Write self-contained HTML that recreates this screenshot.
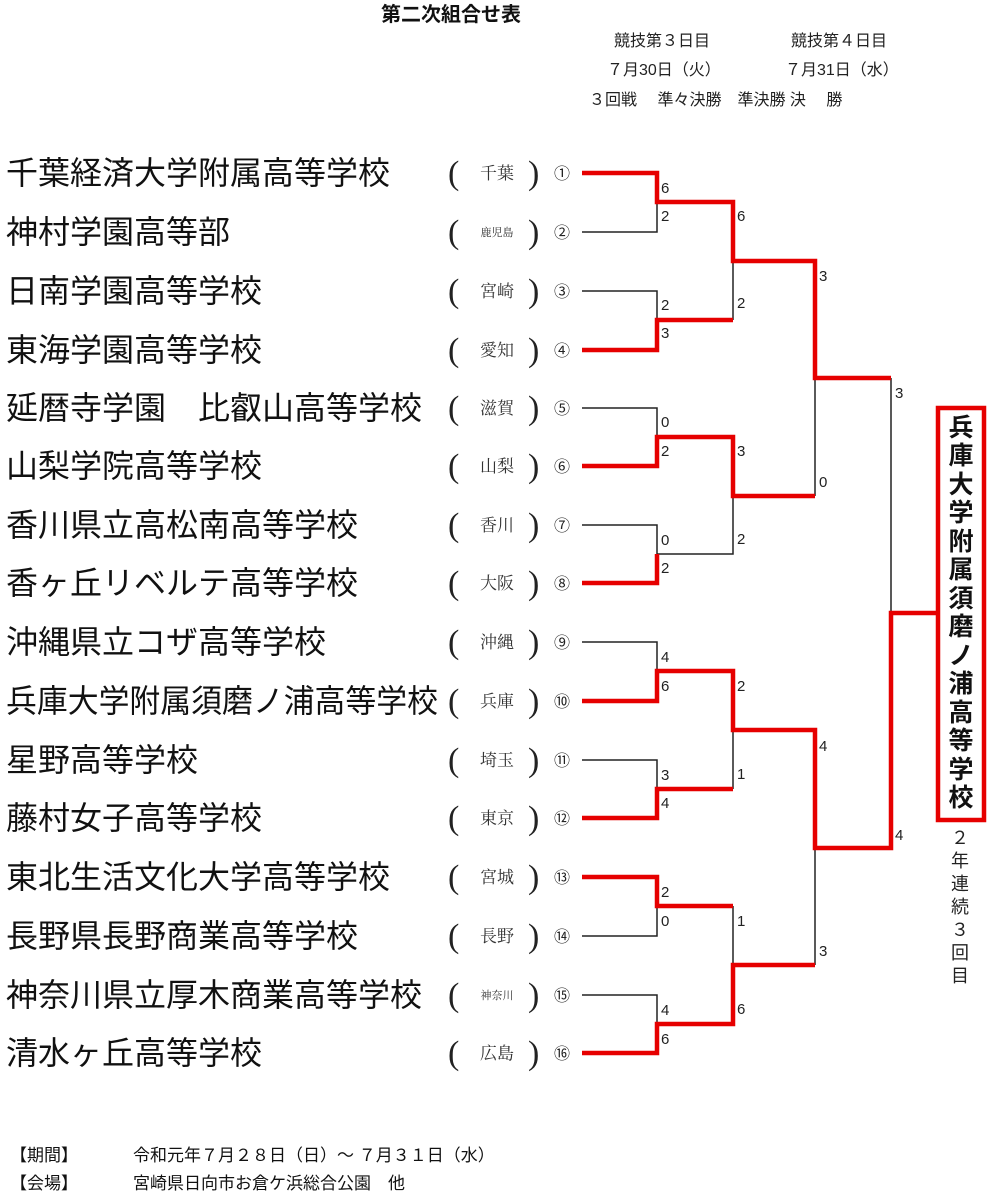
<!DOCTYPE html>
<html><head><meta charset="utf-8"><style>
html,body{margin:0;padding:0;background:#fff;}
svg{display:block;font-family:"Liberation Sans","Noto Sans CJK JP",sans-serif;}
.n{font-size:32px;fill:#111;}
.p{font-size:17px;fill:#333;font-family:"Liberation Serif","Noto Serif CJK SC",serif;}
.ps{font-size:11px;fill:#333;font-family:"Liberation Serif","Noto Serif CJK SC",serif;}
.par{font-size:34px;fill:#222;font-family:"Liberation Serif","Noto Serif CJK SC",serif;}
.c{font-size:16px;fill:#222;}
.s{font-size:15px;fill:#222;}
.h{font-size:16px;fill:#222;}
</style></head><body>
<svg width="1000" height="1200" viewBox="0 0 1000 1200">
<text x="381" y="21" font-size="20" font-weight="bold" fill="#111">第二次組合せ表</text>
<text x="614" y="46" class="h">競技第３日目</text>
<text x="791" y="46" class="h">競技第４日目</text>
<text x="607" y="75" class="h">７月30日（火）</text>
<text x="785" y="75" class="h">７月31日（水）</text>
<text x="589" y="105" class="h">３回戦　 準々決勝　準決勝  決　 勝</text>

<g id="names">
<text x="6" y="184" class="n">千葉経済大学附属高等学校</text>
<text x="6" y="243" class="n">神村学園高等部</text>
<text x="6" y="302" class="n">日南学園高等学校</text>
<text x="6" y="361" class="n">東海学園高等学校</text>
<text x="6" y="419" class="n">延暦寺学園　比叡山高等学校</text>
<text x="6" y="477" class="n">山梨学院高等学校</text>
<text x="6" y="536" class="n">香川県立高松南高等学校</text>
<text x="6" y="594" class="n">香ヶ丘リベルテ高等学校</text>
<text x="6" y="653" class="n">沖縄県立コザ高等学校</text>
<text x="6" y="712" class="n" textLength="432" lengthAdjust="spacingAndGlyphs">兵庫大学附属須磨ノ浦高等学校</text>
<text x="6" y="771" class="n">星野高等学校</text>
<text x="6" y="829" class="n">藤村女子高等学校</text>
<text x="6" y="888" class="n">東北生活文化大学高等学校</text>
<text x="6" y="947" class="n">長野県長野商業高等学校</text>
<text x="6" y="1006" class="n">神奈川県立厚木商業高等学校</text>
<text x="6" y="1064" class="n">清水ヶ丘高等学校</text>
</g>

<g>
<g class="par">
<text x="448" y="184">(</text><text x="528" y="184">)</text>
<text x="448" y="243">(</text><text x="528" y="243">)</text>
<text x="448" y="302">(</text><text x="528" y="302">)</text>
<text x="448" y="361">(</text><text x="528" y="361">)</text>
<text x="448" y="419">(</text><text x="528" y="419">)</text>
<text x="448" y="477">(</text><text x="528" y="477">)</text>
<text x="448" y="536">(</text><text x="528" y="536">)</text>
<text x="448" y="594">(</text><text x="528" y="594">)</text>
<text x="448" y="653">(</text><text x="528" y="653">)</text>
<text x="448" y="712">(</text><text x="528" y="712">)</text>
<text x="448" y="771">(</text><text x="528" y="771">)</text>
<text x="448" y="829">(</text><text x="528" y="829">)</text>
<text x="448" y="888">(</text><text x="528" y="888">)</text>
<text x="448" y="947">(</text><text x="528" y="947">)</text>
<text x="448" y="1006">(</text><text x="528" y="1006">)</text>
<text x="448" y="1064">(</text><text x="528" y="1064">)</text>
</g>
<g text-anchor="middle">
<text x="497" y="179" class="p">千葉</text>
<text x="497" y="236" class="ps">鹿児島</text>
<text x="497" y="297" class="p">宮崎</text>
<text x="497" y="356" class="p">愛知</text>
<text x="497" y="414" class="p">滋賀</text>
<text x="497" y="472" class="p">山梨</text>
<text x="497" y="531" class="p">香川</text>
<text x="497" y="589" class="p">大阪</text>
<text x="497" y="648" class="p">沖縄</text>
<text x="497" y="707" class="p">兵庫</text>
<text x="497" y="766" class="p">埼玉</text>
<text x="497" y="824" class="p">東京</text>
<text x="497" y="883" class="p">宮城</text>
<text x="497" y="942" class="p">長野</text>
<text x="497" y="999" class="ps">神奈川</text>
<text x="497" y="1059" class="p">広島</text>
</g>
<g class="c" text-anchor="middle">
<text x="562" y="179">①</text><text x="562" y="238">②</text><text x="562" y="297">③</text><text x="562" y="356">④</text>
<text x="562" y="414">⑤</text><text x="562" y="472">⑥</text><text x="562" y="531">⑦</text><text x="562" y="589">⑧</text>
<text x="562" y="648">⑨</text><text x="562" y="707">⑩</text><text x="562" y="766">⑪</text><text x="562" y="824">⑫</text>
<text x="562" y="883">⑬</text><text x="562" y="942">⑭</text><text x="562" y="1001">⑮</text><text x="562" y="1059">⑯</text>
</g>
</g>

<g fill="none" stroke="#222" stroke-width="1.5">
<path d="M582 232H657V202"/>
<path d="M582 291H657V320"/>
<path d="M733 261V320"/>
<path d="M582 408H657V437"/>
<path d="M582 525H657V554"/>
<path d="M733 496V554H657"/>
<path d="M815 378V496"/>
<path d="M891 378V613"/>
<path d="M582 642H657V671"/>
<path d="M582 760H657V789"/>
<path d="M733 730V789"/>
<path d="M582 936H657V906"/>
<path d="M582 995H657V1024"/>
<path d="M733 906V965"/>
<path d="M815 848V965"/>
</g>
<g fill="none" stroke="#e60000" stroke-width="4.5" stroke-linejoin="miter">
<path d="M582 173H657V202H733V261H815V378H891"/>
<path d="M582 350H657V320H733"/>
<path d="M582 466H657V437H733V496H815"/>
<path d="M582 583H657V554"/>
<path d="M582 701H657V671H733V730H815V848H891V613H937"/>
<path d="M582 818H657V789H733"/>
<path d="M582 877H657V906H733"/>
<path d="M582 1053H657V1024H733V965H815"/>
<rect x="938" y="408" width="46" height="412"/>
</g>

<g class="s">
<text x="661" y="193">6</text><text x="661" y="221">2</text>
<text x="661" y="310">2</text><text x="661" y="338">3</text>
<text x="661" y="427">0</text><text x="661" y="456">2</text>
<text x="661" y="545">0</text><text x="661" y="573">2</text>
<text x="661" y="662">4</text><text x="661" y="691">6</text>
<text x="661" y="780">3</text><text x="661" y="808">4</text>
<text x="661" y="897">2</text><text x="661" y="926">0</text>
<text x="661" y="1015">4</text><text x="661" y="1044">6</text>
<text x="737" y="221">6</text><text x="737" y="308">2</text>
<text x="737" y="456">3</text><text x="737" y="544">2</text>
<text x="737" y="691">2</text><text x="737" y="779">1</text>
<text x="737" y="926">1</text><text x="737" y="1014">6</text>
<text x="819" y="281">3</text><text x="819" y="487">0</text>
<text x="819" y="751">4</text><text x="819" y="956">3</text>
<text x="895" y="398">3</text><text x="895" y="840">4</text>
</g>

<g font-size="25" font-weight="bold" fill="#111" text-anchor="middle">
<text x="961" y="436">兵</text><text x="961" y="464">庫</text><text x="961" y="493">大</text>
<text x="961" y="521">学</text><text x="961" y="550">附</text><text x="961" y="578">属</text>
<text x="961" y="607">須</text><text x="961" y="635">磨</text><text x="961" y="664">ノ</text>
<text x="961" y="692">浦</text><text x="961" y="721">高</text><text x="961" y="749">等</text>
<text x="961" y="778">学</text><text x="961" y="806">校</text>
</g>
<g font-size="18" fill="#222" text-anchor="middle">
<text x="960" y="844">２</text><text x="960" y="867">年</text><text x="960" y="890">連</text>
<text x="960" y="913">続</text><text x="960" y="936">３</text><text x="960" y="959">回</text>
<text x="960" y="982">目</text>
</g>

<text x="10" y="1161" font-size="17" fill="#111">【期間】</text>
<text x="133" y="1161" font-size="17" fill="#111">令和元年７月２８日（日）～ ７月３１日（水）</text>
<text x="10" y="1189" font-size="17" fill="#111">【会場】</text>
<text x="133" y="1189" font-size="17" fill="#111">宮崎県日向市お倉ケ浜総合公園　他</text>
</svg>
</body></html>
